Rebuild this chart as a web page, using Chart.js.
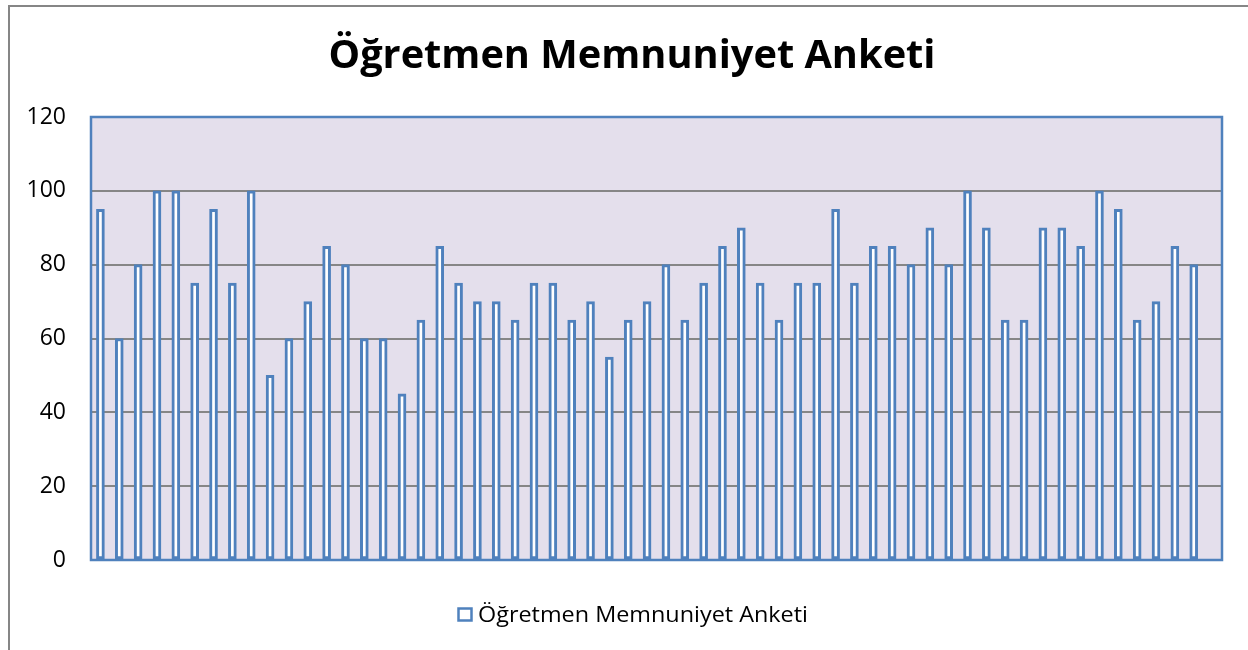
<!DOCTYPE html>
<html>
<head>
<meta charset="utf-8">
<script src="https://cdn.jsdelivr.net/npm/chart.js@4.4.1/dist/chart.umd.min.js"></script>
<style>
  html, body { margin: 0; padding: 0; background: #ffffff; }
  #wrap { width: 1248px; height: 650px; position: relative; }
</style>
</head>
<body>
<div id="wrap"><canvas id="c" width="1248" height="650"></canvas></div>
<script>
const chartTitle = "Öğretmen Memnuniyet Anketi";
const seriesLabel = "Öğretmen Memnuniyet Anketi";
const categories = [
  "1","2","3","4","5","6","7","8","9","10",
  "11","12","13","14","15","16","17","18","19","20",
  "21","22","23","24","25","26","27","28","29","30",
  "31","32","33","34","35","36","37","38","39","40",
  "41","42","43","44","45","46","47","48","49","50",
  "51","52","53","54","55","56","57","58","59","60"
];
const values = [
  95, 60, 80, 100, 100, 75, 95, 75, 100, 50,
  60, 70, 85, 80, 60, 60, 45, 65, 85, 75,
  70, 70, 65, 75, 75, 65, 70, 55, 65, 70,
  80, 65, 75, 85, 90, 75, 65, 75, 75, 95,
  75, 85, 85, 80, 90, 80, 100, 90, 65, 65,
  90, 90, 85, 100, 95, 65, 70, 85, 80, null
];
const yTicks = [0, 20, 40, 60, 80, 100, 120];

const BLUE = "#4F81BD";
const GRID = "#868686";
const PLOT_BG = "#E4DFEC";
const FONT = "'Open Sans', Lato, sans-serif";

// draw text at a given font size, scaled horizontally to a target width
function drawFitted(ctx, text, weight, size, targetW, x, y, align) {
  ctx.save();
  ctx.font = weight + " " + size + "px " + FONT;
  const w = ctx.measureText(text).width;
  const sx = targetW / w;
  const left = align === "center" ? x - targetW / 2 : x;
  ctx.translate(left, y);
  ctx.scale(sx, 1);
  ctx.textAlign = "left";
  ctx.textBaseline = "alphabetic";
  ctx.fillText(text, 0, 0);
  ctx.restore();
}

const decor = {
  id: "decor",
  beforeDraw(chart) {
    const ctx = chart.ctx;
    const a = chart.chartArea;
    ctx.save();
    ctx.fillStyle = "#ffffff";
    ctx.fillRect(0, 0, chart.width, chart.height);
    ctx.strokeStyle = GRID;
    ctx.lineWidth = 2;
    ctx.beginPath();
    ctx.moveTo(9, chart.height + 2);
    ctx.lineTo(9, 6);
    ctx.lineTo(chart.width + 2, 6);
    ctx.stroke();
    ctx.fillStyle = PLOT_BG;
    ctx.fillRect(a.left, a.top, a.right - a.left, a.bottom - a.top);
    ctx.restore();
  },
  afterDatasetsDraw(chart) {
    const ctx = chart.ctx;
    const a = chart.chartArea;
    ctx.save();
    ctx.strokeStyle = BLUE;
    ctx.lineWidth = 2.5;
    ctx.strokeRect(a.left, a.top, a.right - a.left, a.bottom - a.top);
    ctx.restore();
  },
  afterDraw(chart) {
    const ctx = chart.ctx;
    ctx.save();
    ctx.fillStyle = "#000000";
    drawFitted(ctx, chartTitle, "bold", 39, 607, 632, 68, "center");
    // legend
    ctx.fillStyle = "#ffffff";
    ctx.fillRect(457, 607, 16, 15);
    ctx.strokeStyle = BLUE;
    ctx.lineWidth = 2.5;
    ctx.strokeRect(458.5, 608.5, 13, 12);
    ctx.fillStyle = "#000000";
    drawFitted(ctx, seriesLabel, "normal", 21, 330, 478, 622, "left");
    ctx.restore();
  }
};

new Chart(document.getElementById("c"), {
  type: "bar",
  data: {
    labels: categories,
    datasets: [{
      label: seriesLabel,
      data: values,
      backgroundColor: "#ffffff",
      borderColor: BLUE,
      borderWidth: 3,
      borderSkipped: false,
      barThickness: 8
    }]
  },
  options: {
    responsive: false,
    animation: false,
    devicePixelRatio: 1,
    layout: { padding: { top: 117, bottom: 90, left: 0, right: 26 } },
    plugins: {
      legend: { display: false },
      title: { display: false },
      tooltip: { enabled: false }
    },
    scales: {
      x: {
        display: false,
        offset: true,
        grid: { display: false }
      },
      y: {
        min: 0,
        max: 120,
        afterBuildTicks(scale) { scale.ticks = yTicks.map(v => ({ value: v })); },
        afterFit(scale) { scale.width = 91; },
        border: { display: false },
        grid: { color: GRID, lineWidth: 2, drawTicks: false },
        ticks: {
          padding: 25,
          color: "#000000",
          font: { family: FONT, size: 23 }
        }
      }
    }
  },
  plugins: [decor]
});
</script>
</body>
</html>
